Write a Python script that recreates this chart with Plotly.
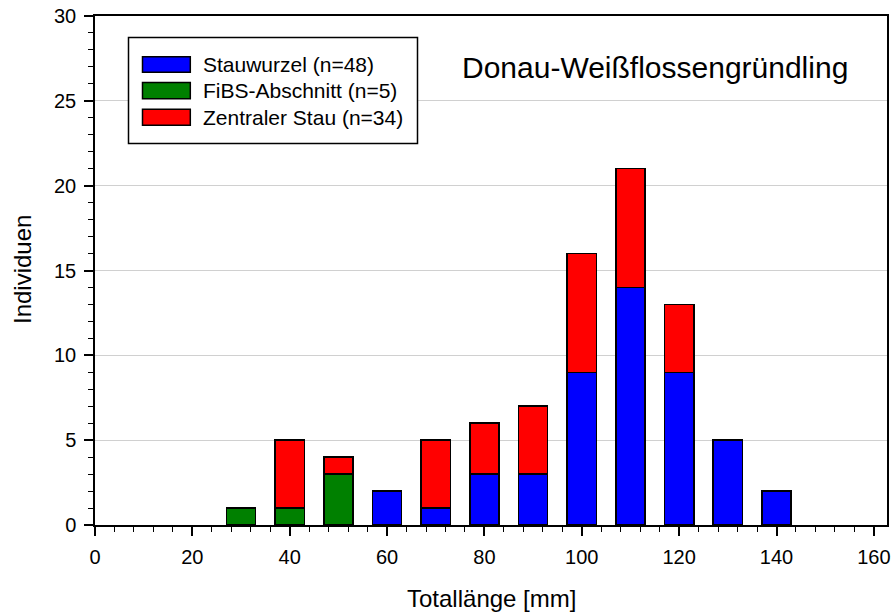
import plotly.graph_objects as go

# ---- data ----
length_mm = [30, 40, 50, 60, 70, 80, 90, 100, 110, 120, 130, 140]
stauwurzel = [None, None, None, 2, 1, 3, 3, 9, 14, 9, 5, 2]
fibs = [1, 1, 3, None, None, None, None, None, None, None, None, None]
zentraler_stau = [None, 4, 1, None, 4, 3, 4, 7, 7, 4, None, None]

series_names = ["Stauwurzel (n=48)", "FiBS-Abschnitt (n=5)", "Zentraler Stau (n=34)"]
series_colors = ["#0000FF", "#008000", "#FF0000"]
title_text = "Donau-Weißflossengründling"
x_title = "Totallänge [mm]"
y_title = "Individuen"

FONT = "Liberation Sans, Arial, sans-serif"

fig = go.Figure()
for vals, name, col in zip([stauwurzel, fibs, zentraler_stau], series_names, series_colors):
    fig.add_trace(go.Bar(
        x=length_mm, y=vals, name=name, width=6,
        marker=dict(color=col, line=dict(color="black", width=1.5)),
        showlegend=False,
    ))

W, H = 893, 614
L, R, T, B = 95, 887, 16, 525  # pixel positions of the plot area


def px(xp):
    return (xp - L) / (R - L)


def py(yp):
    return (B - yp) / (B - T)


shapes = []
annotations = []

# legend box
shapes.append(dict(type="rect", xref="paper", yref="paper",
                   x0=px(128.5), x1=px(417.5), y0=py(143.5), y1=py(37.5),
                   line=dict(color="black", width=1.5), fillcolor="white", layer="above"))
rows = [(56.7, 72.3), (82.5, 98.7), (109.3, 125.3)]
for (t, b), name, col in zip(rows, series_names, series_colors):
    shapes.append(dict(type="rect", xref="paper", yref="paper",
                       x0=px(142.5), x1=px(190.3), y0=py(b), y1=py(t),
                       line=dict(color="black", width=1.5), fillcolor=col, layer="above"))
    annotations.append(dict(xref="paper", yref="paper", x=px(200.5), y=py((t + b) / 2),
                            text=name, showarrow=False, xanchor="left", yanchor="middle",
                            font=dict(family=FONT, size=21, color="black")))

annotations.append(dict(xref="paper", yref="paper", x=px(655), y=py(67),
                        text=title_text, showarrow=False, xanchor="center", yanchor="middle",
                        font=dict(family=FONT, size=30, color="black")))

# axis titles
annotations.append(dict(xref="paper", yref="paper", x=px(491), y=py(598),
                        text=x_title, showarrow=False, xanchor="center", yanchor="middle",
                        font=dict(family=FONT, size=24, color="black")))
annotations.append(dict(xref="paper", yref="paper", x=px(22), y=py(270),
                        text=y_title, showarrow=False, xanchor="center", yanchor="middle",
                        textangle=-90,
                        font=dict(family=FONT, size=24, color="black")))

fig.update_layout(
    width=W, height=H,
    margin=dict(l=L, r=W - R, t=T, b=H - B),
    paper_bgcolor="white", plot_bgcolor="white",
    barmode="stack",
    font=dict(family=FONT, size=20, color="black"),
    shapes=shapes, annotations=annotations,
    xaxis=dict(
        range=[0, 162.7], tick0=0, dtick=20, ticks="outside", ticklen=9, tickwidth=1.5,
        tickcolor="black", showline=True, linecolor="black", linewidth=1.5, mirror=True,
        showgrid=False, zeroline=False, automargin=False, ticklabelstandoff=4,
        minor=dict(dtick=4, tick0=0, ticks="outside", ticklen=5, tickwidth=1.2, tickcolor="black", showgrid=False),
        tickfont=dict(family=FONT, size=20, color="black"),
    ),
    yaxis=dict(
        range=[0, 30], tick0=0, dtick=5, ticks="outside", ticklen=9, tickwidth=1.5,
        tickcolor="black", showline=True, linecolor="black", linewidth=1.5, mirror=True,
        showgrid=True, gridcolor="#d0d0d0", gridwidth=1, zeroline=False, automargin=False,
        ticklabelstandoff=4,
        minor=dict(dtick=1, tick0=0, ticks="outside", ticklen=5, tickwidth=1.2, tickcolor="black", showgrid=False),
        tickfont=dict(family=FONT, size=20, color="black"),
    ),
)

fig.write_html(
    "out.html",
    config={"displayModeBar": False},
    post_script="document.body.style.margin='0';document.body.style.overflow='hidden';",
)
